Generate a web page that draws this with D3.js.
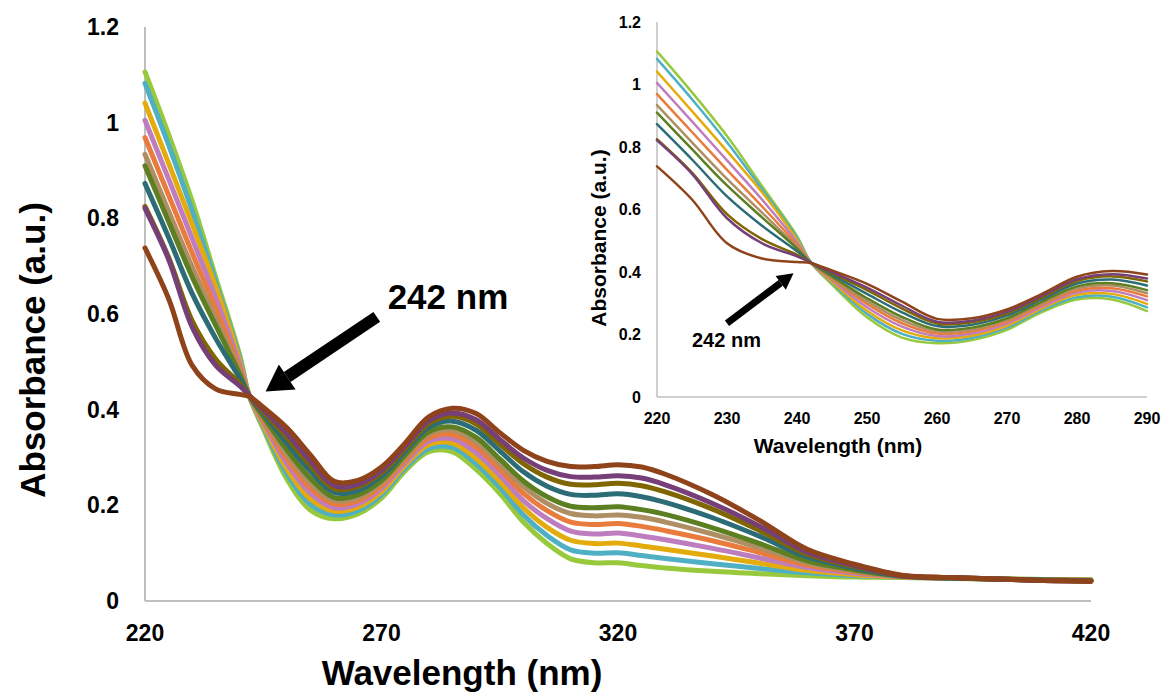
<!DOCTYPE html>
<html>
<head>
<meta charset="utf-8">
<script src="https://cdn.jsdelivr.net/npm/d3@7"></script>
<style>
  html, body { margin: 0; padding: 0; background: #fff; }
  svg { display: block; }
  text { font-family: "Liberation Sans", Arial, sans-serif; font-weight: bold; fill: #000; }
</style>
</head>
<body>
<svg id="chart" width="1162" height="693"></svg>
<script>
// Wavelength grid (nm)
const wavelengths = [220,225,230,235,240,242,245,250,255,260,265,270,275,280,285,290,295,300,305,310,315,320,325,330,340,350,360,370,380,390,400,410,420];

// Absorbance spectra, first scan to last scan
const scan1  = [1.106,0.975,0.835,0.675,0.515,0.43,0.360, 0.255,0.190,0.172,0.182,0.215,0.272,0.312,0.312,0.275, 0.225,0.165,0.120,0.088,0.080,0.080,0.074,0.069, 0.062,0.057,0.053,0.050,0.049,0.047,0.046,0.045,0.045];
const scan2  = [1.082,0.953,0.815,0.665,0.510,0.43,0.365, 0.266,0.202,0.180,0.189,0.222,0.278,0.319,0.321,0.287, 0.238,0.180,0.137,0.107,0.100,0.101,0.095,0.089, 0.078,0.068,0.059,0.053,0.050,0.048,0.046,0.045,0.044];
const scan3  = [1.041,0.915,0.787,0.655,0.503,0.43,0.369, 0.276,0.213,0.188,0.196,0.228,0.284,0.327,0.330,0.298, 0.250,0.195,0.154,0.127,0.120,0.121,0.115,0.108, 0.094,0.079,0.064,0.055,0.050,0.048,0.046,0.045,0.044];
const scan4  = [1.005,0.882,0.757,0.632,0.495,0.43,0.374, 0.287,0.225,0.195,0.203,0.235,0.289,0.334,0.339,0.310, 0.263,0.210,0.172,0.146,0.140,0.142,0.136,0.128, 0.110,0.090,0.070,0.058,0.051,0.048,0.046,0.044,0.043];
const scan5  = [0.969,0.848,0.727,0.610,0.487,0.43,0.378, 0.298,0.236,0.203,0.210,0.241,0.295,0.341,0.348,0.322, 0.276,0.225,0.189,0.165,0.160,0.162,0.156,0.147, 0.126,0.101,0.075,0.061,0.051,0.048,0.046,0.044,0.043];
const scan6  = [0.934,0.815,0.698,0.590,0.480,0.43,0.382, 0.307,0.246,0.210,0.216,0.247,0.300,0.348,0.357,0.332, 0.287,0.239,0.204,0.183,0.178,0.180,0.175,0.165, 0.140,0.111,0.080,0.063,0.051,0.048,0.046,0.044,0.043];
const scan7  = [0.910,0.793,0.677,0.575,0.475,0.43,0.386, 0.316,0.256,0.216,0.222,0.252,0.305,0.354,0.364,0.342, 0.297,0.251,0.218,0.198,0.195,0.197,0.191,0.181, 0.153,0.120,0.084,0.065,0.052,0.048,0.046,0.044,0.043];
const scan8  = [0.873,0.760,0.642,0.548,0.466,0.43,0.392, 0.330,0.271,0.227,0.231,0.261,0.313,0.363,0.376,0.357, 0.314,0.270,0.240,0.223,0.221,0.224,0.218,0.206, 0.174,0.135,0.092,0.069,0.052,0.048,0.046,0.044,0.042];
const scan9  = [0.825,0.718,0.585,0.505,0.455,0.43,0.396, 0.342,0.283,0.235,0.239,0.268,0.319,0.371,0.386,0.370, 0.328,0.287,0.259,0.244,0.243,0.246,0.241,0.228, 0.192,0.147,0.098,0.072,0.053,0.049,0.046,0.043,0.042];
const scan10 = [0.821,0.714,0.572,0.492,0.450,0.43,0.400, 0.350,0.292,0.241,0.244,0.273,0.324,0.377,0.393,0.379, 0.338,0.299,0.273,0.260,0.259,0.262,0.257,0.243, 0.204,0.156,0.102,0.074,0.053,0.049,0.046,0.043,0.042];
const scan11 = [0.738,0.632,0.492,0.443,0.432,0.428,0.405, 0.362,0.305,0.250,0.252,0.280,0.330,0.385,0.403,0.392, 0.352,0.315,0.292,0.281,0.281,0.285,0.280,0.265, 0.222,0.168,0.108,0.077,0.054,0.049,0.046,0.043,0.041];

const scans = [scan1, scan2, scan3, scan4, scan5, scan6, scan7, scan8, scan9, scan10, scan11];
const scanColors = ["#98C93C","#4FAFC4","#E3AC0C","#BE7DBE","#E97B3C","#AE8E63","#5C7F21","#2C6C76","#7F6600","#773F78","#8F431A"];

// Axis ticks
const mainXTicks = [220, 270, 320, 370, 420];
const insetXTicks = [220, 230, 240, 250, 260, 270, 280, 290];
const yTicks = [0, 0.2, 0.4, 0.6, 0.8, 1, 1.2];

// Isosbestic point annotation
const isoLabel = "242 nm";

const svg = d3.select("#chart");

function drawPanel(opts) {
  const x = d3.scaleLinear().domain(opts.xDomain).range(opts.xRange);
  const y = d3.scaleLinear().domain([0, 1.2]).range(opts.yRange);
  const g = svg.append("g");

  // axis lines
  g.append("line")
    .attr("x1", x(opts.xDomain[0])).attr("x2", x(opts.xDomain[0]))
    .attr("y1", y(0)).attr("y2", y(1.2))
    .attr("stroke", "#BFBFBF").attr("stroke-width", opts.axisWidth);
  g.append("line")
    .attr("x1", x(opts.xDomain[0])).attr("x2", x(opts.xDomain[1]))
    .attr("y1", y(0)).attr("y2", y(0))
    .attr("stroke", "#BFBFBF").attr("stroke-width", opts.axisWidth);

  // spectra
  const line = d3.line()
    .x(d => x(d[0]))
    .y(d => y(d[1]))
    .curve(d3.curveCatmullRom.alpha(0.5));
  scans.forEach((s, i) => {
    const pts = wavelengths.map((w, j) => [w, s[j]])
      .filter(p => p[0] >= opts.xDomain[0] && p[0] <= opts.xDomain[1]);
    g.append("path")
      .attr("d", line(pts))
      .attr("fill", "none")
      .attr("stroke", scanColors[i])
      .attr("stroke-width", opts.lineWidth)
      .attr("stroke-linejoin", "round")
      .attr("stroke-linecap", "round");
  });

  // tick labels
  g.selectAll(null).data(yTicks).enter().append("text")
    .attr("x", opts.yLabelX)
    .attr("y", d => y(d))
    .attr("dy", "0.35em")
    .attr("text-anchor", "end")
    .attr("font-size", opts.tickSize)
    .text(d => d3.format("~g")(d));
  g.selectAll(null).data(opts.xTicks).enter().append("text")
    .attr("x", d => x(d))
    .attr("y", opts.xLabelY)
    .attr("text-anchor", "middle")
    .attr("font-size", opts.tickSize)
    .text(d => d);

  // axis titles
  g.append("text")
    .attr("x", opts.xTitle[0]).attr("y", opts.xTitle[1])
    .attr("text-anchor", "middle")
    .attr("font-size", opts.titleSize)
    .text("Wavelength (nm)");
  g.append("text")
    .attr("transform", `translate(${opts.yTitle[0]},${opts.yTitle[1]}) rotate(-90)`)
    .attr("text-anchor", "middle")
    .attr("font-size", opts.titleSize)
    .text("Absorbance (a.u.)");

  // arrow pointing at the isosbestic point
  const a = opts.arrow;
  const x1 = x(a.from[0]), y1 = y(a.from[1]);
  const x2 = x(a.to[0]), y2 = y(a.to[1]);
  const ang = Math.atan2(y2 - y1, x2 - x1);
  const bx = x2 - a.head * Math.cos(ang), by = y2 - a.head * Math.sin(ang);
  g.append("line")
    .attr("x1", x1).attr("y1", y1).attr("x2", bx).attr("y2", by)
    .attr("stroke", "#000").attr("stroke-width", a.width);
  const hw = a.headWidth / 2;
  const px = -Math.sin(ang), py = Math.cos(ang);
  g.append("path")
    .attr("d", `M${x2},${y2}L${bx + px * hw},${by + py * hw}L${bx - px * hw},${by - py * hw}Z`)
    .attr("fill", "#000");
  g.append("text")
    .attr("x", x(a.label[0])).attr("y", y(a.label[1]))
    .attr("text-anchor", "start")
    .attr("font-size", a.labelSize)
    .text(isoLabel);
}

// full spectrum
drawPanel({
  xDomain: [220, 420], xRange: [145, 1091], yRange: [601, 27],
  xTicks: mainXTicks, lineWidth: 5, axisWidth: 2,
  tickSize: 23, titleSize: 35,
  yLabelX: 119, xLabelY: 641,
  xTitle: [462, 685], yTitle: [45, 350],
  arrow: { from: [269, 0.594], to: [245.5, 0.438], head: 26, headWidth: 30, width: 12,
           label: [271.3, 0.61], labelSize: 35 }
});

// zoom on the isosbestic region
drawPanel({
  xDomain: [220, 290], xRange: [657, 1147], yRange: [397, 22],
  xTicks: insetXTicks, lineWidth: 2.5, axisWidth: 1.5,
  tickSize: 16, titleSize: 21,
  yLabelX: 641, xLabelY: 424,
  xTitle: [838, 453], yTitle: [606, 238],
  arrow: { from: [230, 0.236], to: [239.5, 0.396], head: 16, headWidth: 17, width: 7,
           label: [225, 0.16], labelSize: 20 }
});
</script>
</body>
</html>
